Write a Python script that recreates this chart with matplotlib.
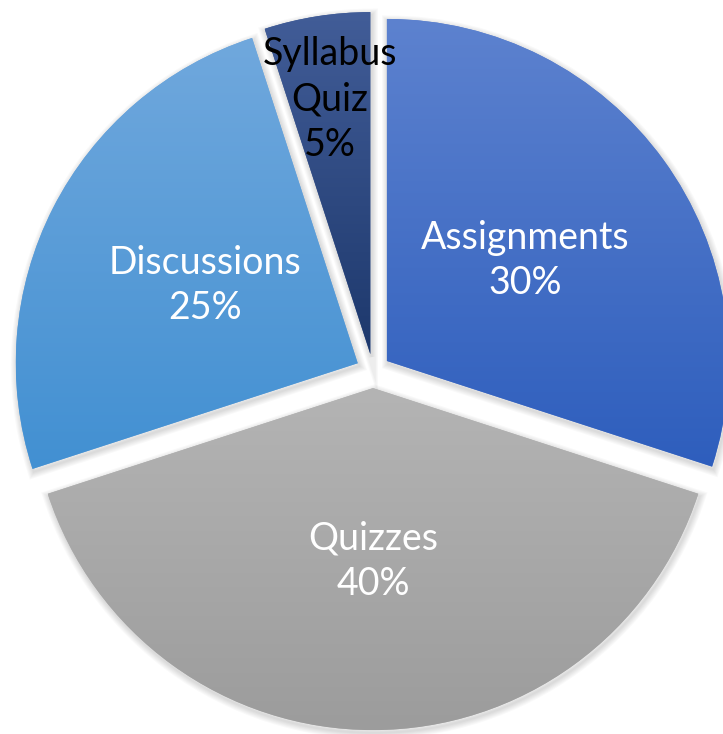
import numpy as np
import matplotlib
matplotlib.use("Agg")
import matplotlib.pyplot as plt
from matplotlib.colors import LinearSegmentedColormap
from matplotlib.patches import Wedge

# ----- data -----
labels = ["Assignments", "Quizzes", "Discussions", "Syllabus\nQuiz"]
shares = [30, 40, 25, 5]

# ----- style -----
grad_top    = ["#5d82cf", "#b4b4b4", "#70a8dd", "#425d98"]
grad_bottom = ["#2e5ebd", "#9c9c9c", "#4290d2", "#1d386c"]
text_colors = ["white", "white", "white", "black"]
label_r     = [0.50, 0.505, 0.50, 0.755]
explode     = [0.05] * len(shares)

W, H = 723, 734
R_PX = 342.0
CX, CY = 373.0, 371.0   # pie centre in pixels (from top-left)

fig = plt.figure(figsize=(W / 100, H / 100), dpi=100)
ax = fig.add_axes([0, 0, 1, 1])
ax.set_axis_off()

wedges, _ = ax.pie(shares, startangle=90, counterclock=False,
                   explode=explode, radius=1.0,
                   wedgeprops=dict(linewidth=0))

# soft shadow under each slice
for w in wedges:
    for k in range(6):
        sh = Wedge((w.center[0] + 0.004, w.center[1] - 0.008), w.r,
                   w.theta1, w.theta2, facecolor="none",
                   edgecolor="black", alpha=0.025, lw=1.5 * (k + 1),
                   zorder=0.5)
        ax.add_patch(sh)

for i, w in enumerate(wedges):
    w.set_zorder(1)
    w.set_facecolor(grad_top[i])
    cx, cy = w.center
    t = np.radians(np.linspace(w.theta1, w.theta2, 100))
    ys = np.concatenate([[cy], cy + w.r * np.sin(t)])
    xs = np.concatenate([[cx], cx + w.r * np.cos(t)])
    cmap = LinearSegmentedColormap.from_list(f"g{i}", [grad_bottom[i], grad_top[i]])
    grad = np.linspace(0, 1, 256).reshape(-1, 1)
    im = ax.imshow(grad, cmap=cmap, origin="lower", aspect="auto",
                   extent=(xs.min(), xs.max(), ys.min(), ys.max()),
                   zorder=2, interpolation="bilinear")
    im.set_clip_path(w)

    mid = np.radians((w.theta1 + w.theta2) / 2)
    ax.text(cx + label_r[i] * np.cos(mid), cy + label_r[i] * np.sin(mid),
            f"{labels[i]}\n{shares[i]}%", ha="center", va="center",
            color=text_colors[i], fontsize=27, family="Lato",
            linespacing=1.33, zorder=5)

ax.set_xlim(-CX / R_PX, (W - CX) / R_PX)
ax.set_ylim(-(H - CY) / R_PX, CY / R_PX)

fig.savefig("out.png", dpi=100)
